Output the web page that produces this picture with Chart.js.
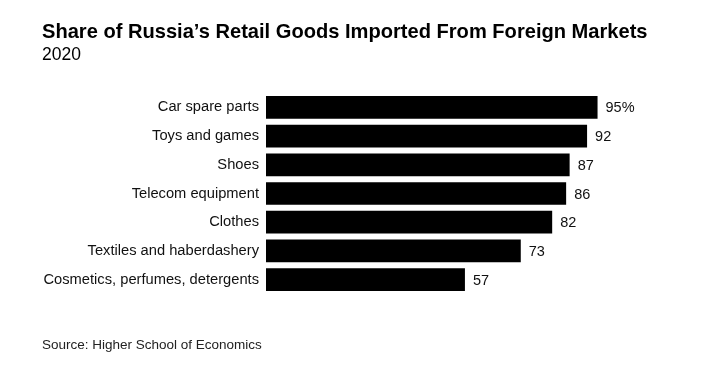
<!DOCTYPE html>
<html>
<head>
<meta charset="utf-8">
<script src="https://cdn.jsdelivr.net/npm/chart.js@4"></script>
<style>
  body { margin: 0; background: #fff; font-family: "Liberation Sans", Arial, sans-serif; }
  #wrap { position: relative; width: 711px; height: 367px; }
  #chart { position: absolute; left: 0; top: 0; }
  .txt { position: absolute; left: 42px; color: #000; white-space: nowrap; line-height: 1; }
  #title { top: 21px; font-size: 20.1px; font-weight: bold; }
  #subtitle { top: 46px; font-size: 17.5px; }
  #source { top: 338px; font-size: 13.5px; color: #222; }
</style>
</head>
<body>
<div id="wrap">
  <canvas id="chart" width="711" height="367"></canvas>
  <div class="txt" id="title">Share of Russia’s Retail Goods Imported From Foreign Markets</div>
  <div class="txt" id="subtitle">2020</div>
  <div class="txt" id="source">Source: Higher School of Economics</div>
</div>
<script>
"use strict";

const categories = ["Car spare parts", "Toys and games", "Shoes", "Telecom equipment",
  "Clothes", "Textiles and haberdashery", "Cosmetics, perfumes, detergents"];
const shares = [95, 92, 87, 86, 82, 73, 57];
const valueLabels = ["95%", "92", "87", "86", "82", "73", "57"];

// draw the number at the end of each bar
const endLabels = {
  id: "endLabels",
  afterDatasetsDraw(chart) {
    const ctx = chart.ctx;
    const meta = chart.getDatasetMeta(0);
    ctx.save();
    ctx.font = "14.5px 'Liberation Sans', Arial, sans-serif";
    ctx.fillStyle = "#111";
    ctx.textBaseline = "middle";
    ctx.textAlign = "left";
    meta.data.forEach(function (bar, i) {
      ctx.fillText(valueLabels[i], bar.x + 8, bar.y + 1);
    });
    ctx.restore();
  }
};

const ctx = document.getElementById("chart").getContext("2d");
new Chart(ctx, {
  type: "bar",
  data: {
    labels: categories,
    datasets: [{
      data: shares,
      backgroundColor: "#000",
      barPercentage: 0.79,
      categoryPercentage: 1
    }]
  },
  options: {
    indexAxis: "y",
    responsive: false,
    animation: false,
    layout: { padding: { left: 0, right: 96, top: 93, bottom: 73 } },
    plugins: { legend: { display: false }, tooltip: { enabled: false } },
    scales: {
      x: { display: false, min: 0, max: 100 },
      y: {
        afterFit: function (scale) { scale.width = 266; },
        grid: { display: false, drawTicks: false },
        border: { display: false },
        ticks: {
          padding: 7,
          color: "#111",
          font: { family: "'Liberation Sans', Arial, sans-serif", size: 14.7 }
        }
      }
    }
  },
  plugins: [endLabels]
});
</script>
</body>
</html>
